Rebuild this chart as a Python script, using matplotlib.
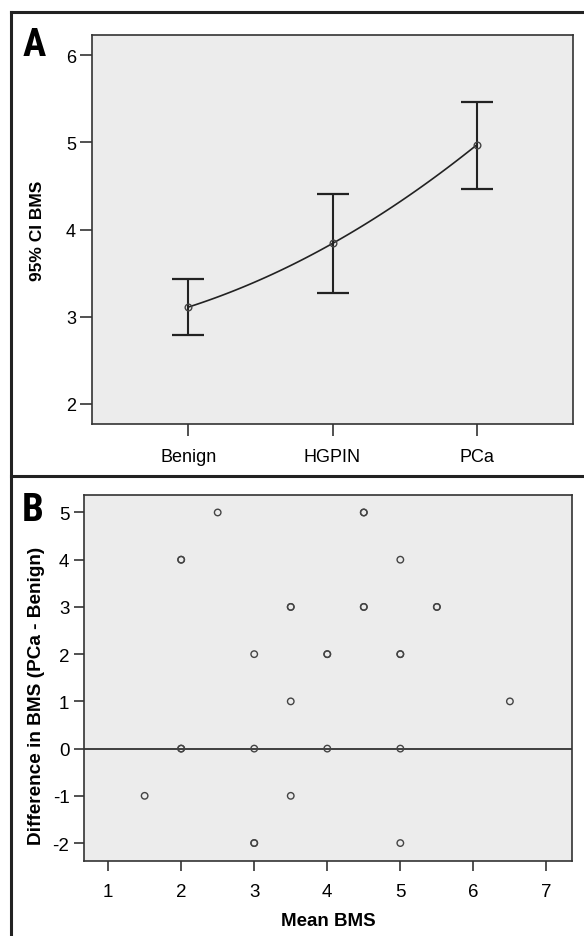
import numpy as np
import matplotlib.pyplot as plt
from matplotlib.lines import Line2D

plt.rcParams['font.family'] = ['Liberation Sans', 'DejaVu Sans']
plt.rcParams['axes.unicode_minus'] = False

# panel A: 95% CI of BMS per group
groups = ['Benign', 'HGPIN', 'PCa']
means = [3.11, 3.84, 4.97]
ci_low = [2.79, 3.27, 4.47]
ci_high = [3.43, 4.41, 5.46]

# panel B: difference vs mean (duplicates drawn on top of each other)
mean_bms = [2.5, 4.5, 4.5, 2, 2, 5, 3.5, 3.5, 4.5, 4.5, 5.5, 5.5, 3, 4, 4, 5, 5,
            3.5, 6.5, 2, 2, 3, 4, 5, 1.5, 3.5, 3, 3, 5]
diff_bms = [5, 5, 5, 4, 4, 4, 3, 3, 3, 3, 3, 3, 2, 2, 2, 2, 2,
            1, 1, 0, 0, 0, 0, 0, -1, -1, -2, -2, -2]

W, H = 584, 937
fig = plt.figure(figsize=(W / 100, H / 100), dpi=100)

def box(l, t, r, b):
    return [l / W, 1 - b / H, (r - l) / W, (b - t) / H]

bg = '#ececec'

# ---- panel A
ax = fig.add_axes(box(92, 36, 573, 425))
ax.set_facecolor(bg)
x = np.arange(len(groups))
err = [np.array(means) - np.array(ci_low), np.array(ci_high) - np.array(means)]
ax.errorbar(x, means, yerr=err, fmt='none', ecolor='#222222', elinewidth=1.5,
            capsize=11.5, capthick=1.6)
# smooth connecting curve through the means
coef = np.polyfit(x, means, 2)
xs = np.linspace(0, 2, 100)
ax.plot(xs, np.polyval(coef, xs), color='#222222', lw=1.2)
ax.plot(x, means, 'o', ms=4.8, mfc='none', mec='#444444', mew=1)
ax.set_xlim(-0.667, 2.667)
ax.set_ylim(1.77, 6.23)
ax.set_xticks(x)
ax.set_xticklabels(groups)
ax.set_yticks([2, 3, 4, 5, 6])
ax.set_ylabel('95% CI BMS', fontsize=12.5, fontweight='bold')
ax.yaxis.set_label_coords((37 - 92) / 481, 0.5)
ax.yaxis.label.set_va('center')

# ---- panel B
bx = fig.add_axes(box(84, 496, 572, 862))
bx.set_facecolor(bg)
bx.axhline(0, color='#222222', lw=1.2, zorder=1)
bx.scatter(mean_bms, diff_bms, s=22, facecolors='none', edgecolors='#444444',
           linewidths=1, zorder=2)
bx.set_xlim(0.67, 7.35)
bx.set_ylim(-2.38, 5.37)
bx.set_xticks(range(1, 8))
bx.set_yticks(range(-2, 6))
bx.set_xlabel('Mean BMS', fontsize=13.5, fontweight='bold', labelpad=9)
bx.set_ylabel('Difference in BMS (PCa - Benign)', fontsize=13.7, fontweight='bold')
bx.yaxis.set_label_coords((37 - 84) / 488, (862 - 696) / 366)
bx.yaxis.label.set_va('center')

for a in (ax, bx):
    for s in a.spines.values():
        s.set_color('#333333')
        s.set_linewidth(1.2)
    a.tick_params(length=8.5, width=1.2, color='#333333', labelsize=13, pad=3)
bx.tick_params(labelsize=13.5, length=7.5)
ax.tick_params(axis='x', pad=9)
bx.tick_params(axis='x', pad=8)

# panel frame and letters
lk = dict(color='#222222', lw=2.2, transform=fig.transFigure)
fig.add_artist(Line2D([11 / W, 1], [1 - 13 / H, 1 - 13 / H], **lk))
fig.add_artist(Line2D([11 / W, 11 / W], [1 - 13 / H, 0], **lk))
fig.add_artist(Line2D([11 / W, 1], [1 - 477 / H, 1 - 477 / H], **lk))

lf = dict(fontsize=28, fontweight='bold',
          family=['Roboto Condensed', 'Liberation Sans Narrow', 'DejaVu Sans'],
          stretch='condensed', ha='center', va='center')
fig.text(34 / W, 1 - 45 / H, 'A', **lf)
fig.text(33 / W, 1 - 511 / H, 'B', **lf)

fig.savefig('out.png', dpi=100, facecolor='white')
